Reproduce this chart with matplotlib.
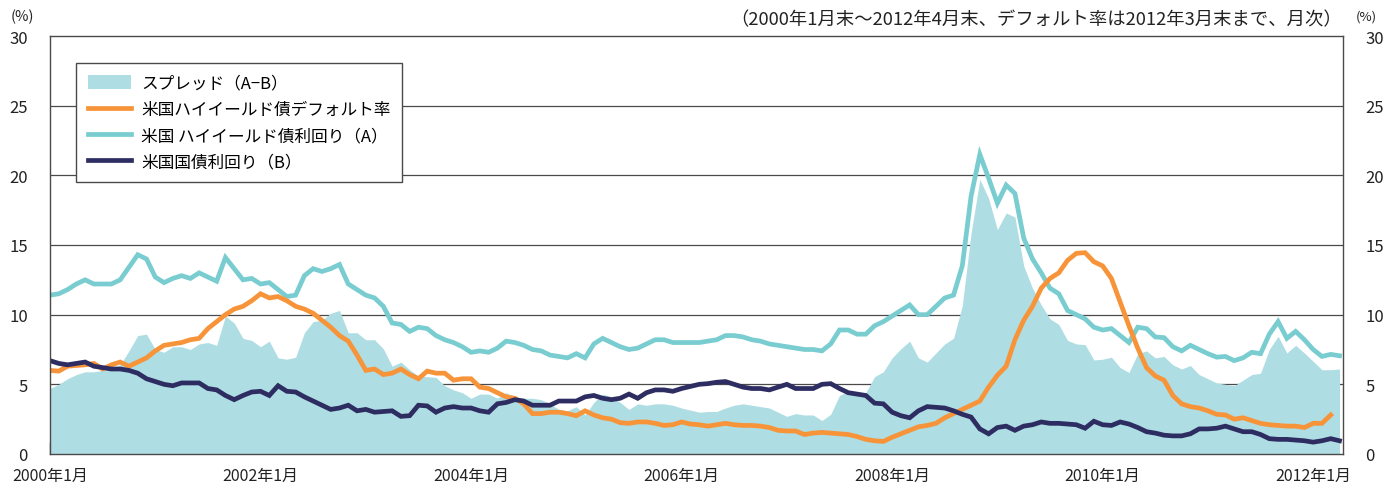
import matplotlib
matplotlib.use("Agg")
import matplotlib.pyplot as plt
import numpy as np
from matplotlib.patches import Patch
from matplotlib.lines import Line2D

plt.rcParams['font.family'] = ['Noto Sans CJK JP', 'DejaVu Sans']

# Monthly data, 2000-01 .. 2012-04 (148 months)
hy_yield = [
    11.4, 11.5, 11.8, 12.2, 12.5, 12.2, 12.2, 12.2, 12.5, 13.4, 14.3, 14.0,
    12.7, 12.3, 12.6, 12.8, 12.6, 13.0, 12.7, 12.4, 14.1, 13.3, 12.5, 12.6,
    12.2, 12.3, 11.8, 11.3, 11.4, 12.8, 13.3, 13.1, 13.3, 13.6, 12.2, 11.8,
    11.4, 11.2, 10.6, 9.4, 9.3, 8.8, 9.1, 9.0, 8.5, 8.2, 8.0, 7.7,
    7.3, 7.4, 7.3, 7.6, 8.1, 8.0, 7.8, 7.5, 7.4, 7.1, 7.0, 6.9,
    7.2, 6.9, 7.9, 8.3, 8.0, 7.7, 7.5, 7.6, 7.9, 8.2, 8.2, 8.0,
    8.0, 8.0, 8.0, 8.1, 8.2, 8.5, 8.5, 8.4, 8.2, 8.1, 7.9, 7.8,
    7.7, 7.6, 7.5, 7.5, 7.4, 7.9, 8.9, 8.9, 8.6, 8.6, 9.2, 9.5,
    9.9, 10.3, 10.7, 10.0, 10.0, 10.6, 11.2, 11.4, 13.5, 18.5, 21.5, 19.8,
    18.0, 19.3, 18.7, 15.5, 14.0, 13.0, 11.9, 11.5, 10.3, 10.0, 9.7, 9.1,
    8.9, 9.0, 8.5, 8.0, 9.1, 9.0, 8.4, 8.35, 7.7, 7.4, 7.8, 7.5,
    7.2, 6.95, 7.0, 6.7, 6.9, 7.3, 7.2, 8.6, 9.5, 8.3, 8.8, 8.2,
    7.5, 7.0, 7.15, 7.05,
]

treasury_yield = [
    6.7, 6.5, 6.4, 6.5, 6.6, 6.3, 6.2, 6.1, 6.1, 6.0, 5.8, 5.4,
    5.2, 5.0, 4.9, 5.1, 5.1, 5.1, 4.7, 4.6, 4.2, 3.9, 4.2, 4.45,
    4.5, 4.2, 4.9, 4.5, 4.45, 4.1, 3.8, 3.5, 3.2, 3.3, 3.5, 3.1,
    3.2, 3.0, 3.05, 3.1, 2.7, 2.75, 3.5, 3.45, 3.0, 3.3, 3.4, 3.3,
    3.3, 3.1, 3.0, 3.6, 3.7, 3.9, 3.8, 3.5, 3.5, 3.5, 3.8, 3.8,
    3.8, 4.1, 4.2, 4.0, 3.9, 4.0, 4.3, 4.0, 4.4, 4.6, 4.6, 4.5,
    4.7, 4.85, 5.0, 5.05, 5.15, 5.2, 5.0, 4.8, 4.7, 4.7, 4.6, 4.8,
    5.0, 4.7, 4.7, 4.7, 5.0, 5.05, 4.7, 4.4, 4.3, 4.2, 3.65, 3.6,
    3.0, 2.75, 2.6, 3.1, 3.4, 3.35, 3.3, 3.1, 2.85, 2.65, 1.8, 1.45,
    1.9, 2.0, 1.7, 2.0, 2.1, 2.3, 2.2, 2.2, 2.15, 2.1, 1.85, 2.35,
    2.1, 2.05, 2.3, 2.15, 1.9, 1.6, 1.5, 1.35, 1.3, 1.3, 1.45, 1.8,
    1.8, 1.85, 2.0, 1.8, 1.6, 1.6, 1.4, 1.1, 1.05, 1.05, 1.0, 0.95,
    0.85, 0.95, 1.1, 0.95,
]

# Default rate, 2000-01 .. 2012-03 (147 months)
default_rate = [
    6.0, 5.95, 6.3, 6.35, 6.4, 6.5, 6.1, 6.4, 6.6, 6.3, 6.6, 6.9,
    7.4, 7.8, 7.9, 8.0, 8.2, 8.3, 9.0, 9.5, 10.0, 10.4, 10.6, 11.0,
    11.5, 11.2, 11.3, 11.0, 10.6, 10.4, 10.1, 9.6, 9.1, 8.5, 8.1, 7.1,
    6.0, 6.1, 5.7, 5.8, 6.1, 5.7, 5.4, 5.95, 5.8, 5.8, 5.3, 5.4,
    5.4, 4.8, 4.7, 4.4, 4.1, 4.0, 3.6, 2.9, 2.9, 3.0, 3.0, 2.9,
    2.75, 3.1, 2.8, 2.6, 2.5, 2.25, 2.2, 2.3, 2.3, 2.2, 2.05, 2.1,
    2.3, 2.15, 2.1, 2.0, 2.1, 2.2, 2.1, 2.05, 2.05, 2.0, 1.9, 1.7,
    1.65, 1.65, 1.4, 1.5, 1.55, 1.5, 1.45, 1.4, 1.25, 1.05, 0.95, 0.9,
    1.2, 1.45, 1.7, 1.95, 2.05, 2.2, 2.6, 2.9, 3.2, 3.5, 3.8, 4.8,
    5.65, 6.3, 8.2, 9.6, 10.6, 11.9, 12.6, 13.0, 13.9, 14.4, 14.45, 13.8,
    13.5, 12.6, 10.9, 9.2, 7.6, 6.2, 5.6, 5.3, 4.2, 3.6, 3.4, 3.3,
    3.1, 2.85, 2.8, 2.5, 2.6, 2.4, 2.2, 2.1, 2.05, 2.0, 2.0, 1.9,
    2.2, 2.2, 2.8,
]

xtick_months = [0, 24, 48, 72, 96, 120, 144]
xtick_labels = ["2000年1月", "2002年1月", "2004年1月", "2006年1月",
                "2008年1月", "2010年1月", "2012年1月"]
yticks = [0, 5, 10, 15, 20, 25, 30]

legend_labels = ["スプレッド（A−B）", "米国ハイイールド債デフォルト率",
                 "米国 ハイイールド債利回り（A）", "米国国債利回り（B）"]

c_area = "#aedde3"
c_default = "#f7943a"
c_hy = "#79cdd0"
c_tsy = "#2e2d62"
c_axis = "#4a4a4a"
c_text = "#222222"

W, H = 1397, 489
fig = plt.figure(figsize=(W / 100, H / 100), dpi=100)
L, R, T, B = 50, 1343, 37, 455
ax = fig.add_axes([L / W, (H - B) / H, (R - L) / W, (B - T) / H])

m_main = np.arange(len(hy_yield))
m_def = np.arange(len(default_rate))
spread = np.array(hy_yield) - np.array(treasury_yield)

ax.fill_between(m_main, 0, spread, color=c_area, lw=0, zorder=2)
ax.plot(m_main, hy_yield, color=c_hy, lw=3.4, zorder=3, solid_joinstyle='miter')
ax.plot(m_def, default_rate, color=c_default, lw=3.4, zorder=4, solid_joinstyle='miter')
ax.plot(m_main, treasury_yield, color=c_tsy, lw=3.4, zorder=5, solid_joinstyle='miter')

ax.set_xlim(0, 147.4)
ax.set_ylim(0, 30)

for v in yticks[1:-1]:
    ax.axhline(v, color=c_axis, lw=0.9, zorder=1)

for s in ax.spines.values():
    s.set_color(c_axis)
    s.set_linewidth(1.0)
    s.set_zorder(6)

ax.set_yticks(yticks)
ax.set_yticklabels([str(v) for v in yticks])
ax.tick_params(axis='y', length=0, labelsize=12, pad=16, labelcolor=c_text,
               labelright=True, right=False)

ax.set_xticks(xtick_months)
ax.set_xticklabels(xtick_labels)
ax.tick_params(axis='x', direction='in', length=9, width=1.0, color=c_axis,
               labelsize=11.5, pad=9, labelcolor=c_text)

fig.text(22 / W, 1 - 17 / H, "(%)", fontsize=10.5, ha='center', va='center', color=c_text)
fig.text(1366 / W, 1 - 17 / H, "(%)", fontsize=9.5, ha='center', va='center', color=c_text)
fig.text(1342 / W, 1 - 20 / H,
         "（2000年1月末～2012年4月末、デフォルト率は2012年3月末まで、月次）",
         fontsize=13.2, ha='right', va='center', color=c_text)

handles = [
    Patch(facecolor=c_area, edgecolor='none'),
    Line2D([], [], color=c_default, lw=3.4),
    Line2D([], [], color=c_hy, lw=3.4),
    Line2D([], [], color=c_tsy, lw=3.4),
]
leg = ax.legend(handles, legend_labels, loc='upper left',
                bbox_to_anchor=((76 - L) / (R - L), (B - 64) / (B - T)),
                fontsize=12.0, frameon=True, fancybox=False, framealpha=1,
                edgecolor=c_axis, borderpad=0.7, labelspacing=0.55,
                handlelength=2.6, handleheight=0.9, handletextpad=0.6,
                borderaxespad=0)
leg.get_frame().set_linewidth(1.0)
leg.set_zorder(10)

fig.savefig("out.png", dpi=100)
